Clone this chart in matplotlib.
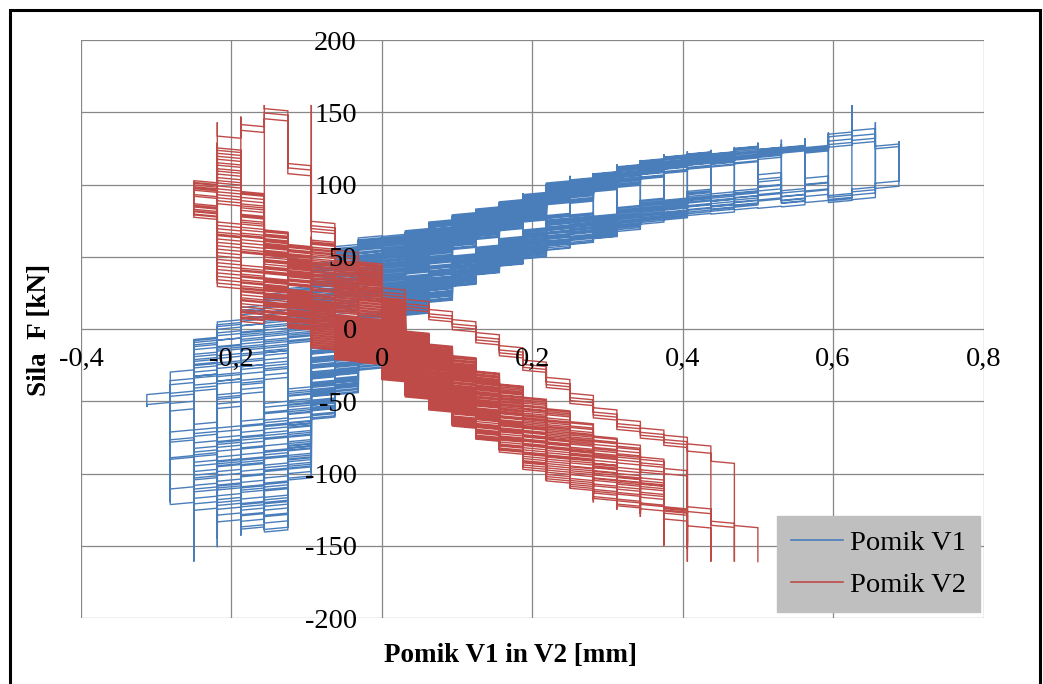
import matplotlib
matplotlib.use("Agg")
import matplotlib.pyplot as plt
from matplotlib.lines import Line2D
from matplotlib.patches import Rectangle

plt.rcParams["font.family"] = ["Liberation Serif", "DejaVu Serif"]

STEP = 0.03125   # displacement resolution of the transducers [mm]
DRIFT = 1.5      # force change while the reading jumps one step [kN]

# ---------------- Pomik V1 ----------------
# force at which the reading crosses each gap (gap k lies between k*STEP and (k+1)*STEP)
v1_first_gap = -10
v1_rise_lo = [-46, -62, -45, -55, -45, -35, -10, 0, 10, 20, 30, 38, 45, 55, 62, 68,
              74, 86, 87, 95, 98, 103, 107, 110, 111, 113, 116, 121, 121, 124, 126, 124]
v1_rise_hi = [-42, -27, -4, 8, 18, 27, 28, 45, 57, 63, 64, 68, 74, 79, 83, 88,
              93, 101, 104, 108, 113, 117, 120, 122, 122, 126, 125, 126, 126, 136, 141, 129]
v1_fall_lo = [-54, -120, -124, -132, -137, -139, -103, -61, -44, -27, 6, 11, 20, 31, 39, 45,
              50, 56, 60, 64, 69, 74, 77, 80, 81, 84, 85, 86, 89, 89, 91, 96]
v1_fall_hi = [-50, -66, -60, -65, -60, -50, -40, -12, -2, 12, 32, 38, 45, 52, 58, 64,
              70, 80, 81, 80, 86, 91, 91, 98, 96, 98, 110, 98, 110, 95, 100, 104]
# load cycles: end columns, extreme forces, position inside the band
v1_top = [2, 2, 2, 2, 3, 3, 4, 4, 4, 4, 5, 5, 6, 6, 6, 6, 7, 7, 8, 8, 8, 8, 9, 9,
          10, 10, 10, 10, 11, 11, 12, 12, 12, 12, 13, 13, 14, 14, 14, 14, 15, 15,
          16, 16, 17, 17, 18, 18, 19, 19, 20, 21, 21, 22, 22]
v1_bot = [-1, -1, -2, -2, -2, -2, -3, -3, -3, -3, -4, -4, -4, -4, -4, -5, -5, -5,
          -5, -5, -6, -5, -6, -6, -6, -6, -7, -6, -7, -7, -7, -7, -7, -8, -7, -8,
          -8, -8, -8, -8, -8, -8, -8, -9, -8, -8, -8, -9, -9, -8, -9, -9, -9, -10, -8]
v1_peak = [58, 62, 60, 64, 70, 72, 76, 80, 78, 82, 84, 86, 90, 92, 88, 94, 98, 100,
           102, 104, 103, 106, 106, 108, 110, 112, 111, 114, 116, 117, 118, 120, 119, 121,
           121, 123, 122, 123, 122, 124, 125, 126, 129, 127, 131, 128, 132, 128, 134, 136,
           155, 143, 132, 130, 128]
v1_trough = [-22, -25, -36, -42, -40, -44, -50, -56, -58, -61, -70, -80, -88, -95, -103,
             -112, -110, -118, -125, -132, -128, -139, -133, -137, -140, -143, -130, -138,
             -135, -140, -151, -134, -145, -124, -142, -135, -140, -161, -150, -128, -122,
             -132, -145, -118, -155, -138, -130, -112, -120, -126, -110, -100, -115, -54, -104]
v1_s_rise = [0.20, 0.62, 0.38, 0.85, 0.08, 0.50, 0.93, 0.28, 0.70, 0.15,
             0.77, 0.45, 0.97, 0.25, 0.57, 0.03, 0.88, 0.40, 0.72, 0.18,
             1.00, 0.52, 0.32, 0.82, 0.60, 0.90, 0.42, 0.68, 0.22, 0.00,
             0.35, 0.75, 0.12, 0.95, 0.48, 0.65, 0.30, 0.80, 0.05, 0.55,
             0.87, 0.27, 0.63, 0.10, 0.92, 0.37, 0.58, 0.83, 0.44, 0.67,
             0.90, 0.30, 0.75, 0.50, 0.15]
v1_s_fall = [0.70, 0.30, 0.90, 0.10, 0.55, 0.80, 0.20, 0.45, 0.05, 0.65,
             0.35, 0.95, 0.15, 0.60, 0.40, 0.85, 0.25, 0.75, 0.50, 1.00,
             0.12, 0.32, 0.72, 0.47, 0.92, 0.22, 0.62, 0.02, 0.82, 0.37,
             0.57, 0.17, 0.77, 0.42, 0.97, 0.27, 0.67, 0.07, 0.52, 0.87,
             0.33, 0.63, 0.13, 0.83, 0.48, 0.73, 0.23, 0.93, 0.58, 0.38,
             0.20, 0.60, 0.00, 0.80, 0.35]

# ---------------- Pomik V2 ----------------
v2_first_gap = -8
v2_rise_lo = [90, 84, 50, 36, 28, 20, 10, 8, -10, -22, -32, -42, -52, -60, -70, -78,
              -86, -95, -100, -105, -105, -105, -100, -98]
v2_rise_hi = [102, 125, 95, 68, 57, 60, 46, 45, 20, -3, -12, -20, -30, -39, -48, -56,
              -65, -75, -79, -89, -93, -88, -91, -98]
v2_fall_lo = [77, 28, 4, 6, 0, -14, -21, -23, -35, -47, -56, -68, -77, -86, -98, -106,
              -111, -118, -123, -125, -134, -156, -161, -136]
v2_fall_hi = [88, 75, 45, 36, 28, 20, 10, 8, -8, -20, -30, -40, -50, -58, -68, -76,
              -84, -93, -100, -105, -123, -123, -133, -136]
# rising path of the last, largest cycles
v2_outer_rise = [100, 132, 140, 148, 110, 70, 50, 35, 24, 16, 9, 2, -7, -16, -26, -38,
                 -49, -59, -67, -73, -78, -84, -91, -98]
v2_top = [-1, -1, -2, -2, -2, -2, -3, -3, -3, -3, -4, -4, -4, -4, -5, -5, -5, -5,
          -6, -6, -6, -6, -6, -6, -7, -7, -7, -7, -7, -7, -7, -7, -7, -8, -8, -8,
          -8, -8, -8, -8, -8, -8, -8, -7, -7, -6, -5, -3]
v2_bot = [1, 1, 2, 2, 3, 3, 3, 3, 4, 4, 4, 4, 5, 5, 5, 5, 6, 6, 6, 6, 7, 7, 7, 7,
          8, 8, 9, 9, 9, 10, 10, 10, 11, 11, 11, 11, 12, 12, 12, 12, 13, 12, 13, 13,
          13, 14, 15, 16]
v2_peak = [45, 48, 50, 53, 52, 56, 62, 60, 58, 64, 57, 60, 55, 58, 68, 66, 70, 67,
           95, 104, 90, 98, 92, 100, 129, 120, 125, 115, 110, 122, 118, 112, 126, 102,
           98, 95, 100, 92, 96, 101, 94, 99, 97, 118, 143, 147, 155, 155]
v2_trough = [-40, -42, -50, -52, -60, -62, -62, -58, -70, -72, -72, -68, -80, -82, -82,
             -78, -90, -92, -95, -88, -100, -105, -103, -98, -108, -110, -118, -115, -120,
             -122, -125, -120, -128, -125, -130, -127, -150, -140, -145, -142, -150, -138,
             -148, -152, -161, -161, -161, -161]
v2_outer = [0] * 44 + [1, 1, 1, 1]
v2_outer_shift = [0] * 44 + [0, -4, 3, -2]
v2_s_rise = [0.30, 0.70, 0.10, 0.50, 0.90, 0.20, 0.60, 0.40, 0.80, 0.00,
             0.55, 0.35, 1.00, 0.25, 0.65, 0.45, 0.85, 0.15, 0.75, 0.50,
             0.95, 0.05, 0.60, 0.30, 0.72, 0.18, 0.88, 0.42, 0.08, 0.62,
             0.33, 0.97, 0.23, 0.53, 0.78, 0.13, 0.47, 0.68, 0.03, 0.83,
             0.38, 0.58, 0.93, 0.28, 1.00, 1.00, 1.00, 1.00]
v2_s_fall = [0.60, 0.20, 0.80, 0.40, 0.00, 0.70, 0.30, 0.90, 0.50, 0.15,
             0.85, 0.45, 0.25, 0.65, 0.05, 0.95, 0.35, 0.75, 0.55, 0.10,
             0.40, 0.70, 0.20, 0.90, 0.33, 0.63, 0.13, 0.83, 0.48, 0.98,
             0.28, 0.58, 0.08, 0.78, 0.38, 0.68, 0.18, 0.88, 0.43, 0.03,
             0.73, 0.53, 0.23, 0.93, 0.80, 0.60, 0.90, 1.00]

x_ticks = [-0.4, -0.2, 0.0, 0.2, 0.4, 0.6, 0.8]
x_tick_labels = ["-0,4", "-0,2", "0", "0,2", "0,4", "0,6", "0,8"]
y_ticks = [-200, -150, -100, -50, 0, 50, 100, 150, 200]
y_tick_labels = ["-200", "-150", "-100", "-50", "0", "50", "100", "150", "200"]


def stair_trace(first_gap, rise_lo, rise_hi, fall_lo, fall_hi, top, bot, peak, trough,
                s_rise, s_fall, outer=None, outer_rise=None, outer_shift=None):
    """Staircase force-displacement path of a quantised displacement reading."""
    xs, fs = [0.0], [0.0]
    col = 0
    for j in range(len(top)):
        # loading: the reading steps toward the top column
        while col != top[j]:
            nxt = col + (1 if top[j] > col else -1)
            g = min(col, nxt) - first_gap
            if outer is not None and outer[j]:
                f = outer_rise[g] + outer_shift[j]
            else:
                f = rise_lo[g] + (rise_hi[g] - rise_lo[g]) * s_rise[j]
            xs += [col * STEP, nxt * STEP]
            fs += [f, f + DRIFT]
            col = nxt
        xs.append(col * STEP)
        fs.append(peak[j])
        # unloading: back toward the bottom column
        while col != bot[j]:
            nxt = col + (1 if bot[j] > col else -1)
            g = min(col, nxt) - first_gap
            f = fall_lo[g] + (fall_hi[g] - fall_lo[g]) * s_fall[j]
            xs += [col * STEP, nxt * STEP]
            fs += [f, f - DRIFT]
            col = nxt
        xs.append(col * STEP)
        fs.append(trough[j])
    return xs, fs


v1_x, v1_f = stair_trace(v1_first_gap, v1_rise_lo, v1_rise_hi, v1_fall_lo, v1_fall_hi,
                         v1_top, v1_bot, v1_peak, v1_trough, v1_s_rise, v1_s_fall)
v2_x, v2_f = stair_trace(v2_first_gap, v2_rise_lo, v2_rise_hi, v2_fall_lo, v2_fall_hi,
                         v2_top, v2_bot, v2_peak, v2_trough, v2_s_rise, v2_s_fall,
                         v2_outer, v2_outer_rise, v2_outer_shift)

W, H = 1043, 684
fig = plt.figure(figsize=(W / 100, H / 100), dpi=100)
ax = fig.add_axes([81 / W, 1 - 618 / H, (983.5 - 81) / W, (618 - 40) / H])

# gridlines beneath the data, tick labels above it
grid_color = "#878787"
for xv in x_ticks:
    ax.axvline(xv, color=grid_color, lw=0.9, zorder=0.5)
for yv in y_ticks:
    ax.axhline(yv, color=grid_color, lw=0.9, zorder=0.5)

blue = "#4A7EBB"
red = "#BE4B48"
ax.plot(v1_x, v1_f, color=blue, lw=1.0, solid_joinstyle="miter", zorder=1.5)
ax.plot(v2_x, v2_f, color=red, lw=1.0, solid_joinstyle="miter", zorder=1.6)

ax.set_xlim(-0.4, 0.8)
ax.set_ylim(-200, 200)
ax.set_xticks(x_ticks)
ax.set_xticklabels(x_tick_labels)
ax.set_yticks(y_ticks)
ax.set_yticklabels(y_tick_labels)
ax.set_axisbelow(False)
ax.spines["left"].set_position(("data", 0))
ax.spines["bottom"].set_position(("data", 0))
for sp in ax.spines.values():
    sp.set_visible(False)
ax.tick_params(axis="both", length=0, labelsize=20.5, colors="black")
ax.tick_params(axis="x", pad=13)
ax.tick_params(axis="y", pad=18)

fig.text(40 / W, 1 - 330 / H, "Sila  F [kN]", rotation=90, ha="center", va="center",
         fontsize=19.5, fontweight="bold")
fig.text(510 / W, 1 - 656 / H, "Pomik V1 in V2 [mm]", ha="center", va="center",
         fontsize=19.5, fontweight="bold")

handles = [Line2D([], [], color=blue, lw=1.2), Line2D([], [], color=red, lw=1.2)]
leg = ax.legend(handles, ["Pomik V1", "Pomik V2"], loc="lower right",
                bbox_to_anchor=(0.996, 0.0104), borderaxespad=0, fontsize=20.5,
                frameon=True, fancybox=False, handlelength=1.8, handletextpad=0.25,
                labelspacing=0.55, borderpad=0.5)
leg.get_frame().set_facecolor("#BFBFBF")
leg.get_frame().set_edgecolor("#BFBFBF")
leg.get_frame().set_alpha(1)
leg.set_zorder(5)

# chart-area border
fig.add_artist(Rectangle((10 / W, -0.1), (1040 - 10) / W, 1 - 10 / H + 0.1,
                         transform=fig.transFigure, fill=False, ec="black", lw=2.2))

fig.savefig("out.png", dpi=100)
